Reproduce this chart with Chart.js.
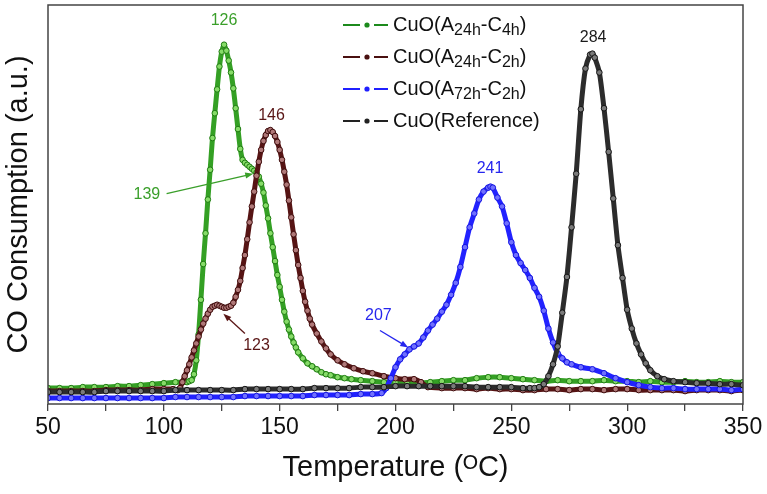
<!DOCTYPE html>
<html>
<head>
<meta charset="utf-8">
<script src="https://cdn.jsdelivr.net/npm/chart.js@4.4.1/dist/chart.umd.min.js"></script>
<style>
  html, body { margin: 0; padding: 0; background: #fff; }
  canvas { display: block; }
</style>
</head>
<body>
<canvas id="chart" width="767" height="494"></canvas>
<script>
// CO-TPR profiles, [temperature (C), signal (a.u.)]
const curveA24C4 = [[50,16],[55,16],[60,16],[65,17],[70,17],[75,17],[80,18],[85,18],[90,19],[95,20],[100,21],[105,22],[108,22],[110,22],[111,23],[112,24],[113,30],[114,44],[115,70],[116,105],[117,141],[118,172],[119,206],[120,236],[121,268],[122,293],[123,317],[124,340],[125,355],[126,362],[127,356],[128,346],[129,334],[130,318],[131,298],[132,277],[133,257],[134,246],[135,243],[136,241],[137,239],[138,237],[139,235],[140,233],[141,229],[142,222],[143,213],[144,200],[145,187],[146,172],[147,158],[148,144],[149,130],[150,118],[151,105],[152,93],[153,83],[154,75],[155,68],[156,62],[157,57],[158,52],[160,46],[162,41],[164,38],[166,35],[168,32],[170,30],[172,29],[175,27],[178,26],[181,25],[185,24],[190,23],[195,22],[200,22],[205,21],[210,21],[215,22],[220,23],[225,24],[230,24],[235,26],[240,27],[245,27],[250,26],[255,25],[260,24],[265,23],[270,24],[275,23],[280,23],[285,23],[290,24],[295,23],[300,23],[305,22],[310,23],[315,22],[320,22],[325,23],[330,22],[335,22],[340,23],[345,22],[350,22]];
const curveA24C2 = [[50,13],[55,13],[60,13],[65,13],[70,13],[75,14],[80,14],[85,14],[90,14],[95,15],[100,15],[104,15],[106,14],[107,16],[108,22],[109,28],[110,34],[111,40],[112,47],[113,54],[114,61],[115,68],[116,75],[117,81],[118,86],[119,91],[120,95],[121,98],[122,99],[123,100],[124,99],[125,98],[126,97],[127,97],[128,98],[129,99],[130,102],[131,108],[132,115],[133,124],[134,137],[135,150],[136,166],[137,183],[138,199],[139,214],[140,230],[141,244],[142,256],[143,265],[144,271],[145,275],[146,276],[147,274],[148,270],[149,264],[150,256],[151,246],[152,234],[153,221],[154,205],[155,188],[156,171],[157,155],[158,140],[159,127],[160,114],[161,103],[162,94],[163,86],[164,80],[166,71],[168,63],[170,56],[172,50],[175,44],[178,40],[182,36],[186,33],[190,31],[195,28],[200,26],[204,25],[208,25],[211,22],[214,17],[220,16],[225,16],[230,16],[235,15],[240,16],[245,15],[250,15],[255,14],[260,14],[265,15],[270,15],[275,14],[280,15],[285,15],[290,14],[295,15],[300,15],[305,14],[310,14],[315,14],[320,14],[325,13],[330,14],[335,14],[340,14],[345,13],[350,14]];
const curveA72C2 = [[50,6],[55,6],[60,6],[65,6],[70,6],[75,6],[80,6],[85,6],[90,6],[95,6],[100,6],[105,7],[110,7],[115,7],[120,7],[125,7],[130,7],[135,8],[140,8],[145,8],[150,8],[155,8],[160,8],[165,9],[170,9],[175,9],[180,9],[185,10],[190,10],[194,11],[196,16],[198,26],[200,37],[202,45],[204,50],[206,55],[208,58],[210,61],[212,67],[214,74],[216,80],[218,86],[220,93],[222,100],[224,110],[226,122],[228,138],[230,158],[232,178],[234,192],[236,206],[238,214],[240,218],[241,219],[242,218],[244,208],[246,199],[248,182],[250,163],[252,150],[254,142],[256,135],[258,127],[260,117],[262,108],[264,94],[266,76],[268,62],[270,51],[272,46],[274,42],[276,40],[280,37],[285,35],[290,31],[295,26],[300,22],[305,19],[310,17],[315,16],[320,16],[325,15],[330,15],[335,15],[340,15],[345,14],[350,15]];
const curveRef = [[50,12],[55,12],[60,12],[65,12],[70,12],[75,13],[80,13],[85,13],[90,13],[95,13],[100,13],[105,14],[110,14],[115,14],[120,14],[125,14],[130,14],[135,15],[140,15],[145,15],[150,15],[155,15],[160,15],[165,16],[170,16],[175,16],[180,16],[185,17],[190,17],[195,17],[200,18],[205,18],[210,18],[215,18],[220,18],[225,18],[230,18],[235,17],[240,17],[245,17],[250,17],[255,16],[258,16],[260,16],[262,17],[264,20],[266,28],[268,40],[270,58],[272,92],[274,128],[276,178],[278,232],[280,297],[282,338],[284,352],[285,353],[286,349],[288,334],[290,298],[292,254],[294,207],[296,160],[298,127],[300,95],[302,76],[304,61],[306,50],[308,41],[310,34],[313,28],[316,25],[320,23],[325,22],[330,21],[335,21],[340,20],[345,20],[350,19]];

// legend text, pieces flagged 1 are subscripts
const legendNames = [
  [["CuO(A", 0], ["24h", 1], ["-C", 0], ["4h", 1], [")", 0]],
  [["CuO(A", 0], ["24h", 1], ["-C", 0], ["2h", 1], [")", 0]],
  [["CuO(A", 0], ["72h", 1], ["-C", 0], ["2h", 1], [")", 0]],
  [["CuO(Reference)", 0]]
];

// peak labels: [text, temperature, signal]
const peakLabels = [["126", 126, 386], ["146", 146.5, 291], ["139", 92.7, 211], ["123", 140, 59], ["207", 192.6, 89], ["241", 240.8, 237], ["284", 285.3, 369]];
// arrows for the shoulder labels: [from T, from signal, to T, to signal]
const peakArrows = [[101.2, 212, 138.6, 232], [135, 71, 125.7, 91], [193.3, 74, 205.5, 57]];
const labelSeries = [0, 1, 0, 1, 2, 2, 3];
const arrowSeries = [0, 1, 2];

const xTicks = [50, 100, 150, 200, 250, 300, 350];

const colors = [
  { line: "#34a024", point: "#86dc68", edge: "#1f7a12", legend: "#1c8a1c", text: "#3a9f2a" },
  { line: "#561414", point: "#b07878", edge: "#3e0c0c", legend: "#4a1010", text: "#5a1616" },
  { line: "#2222ff", point: "#7070ff", edge: "#1414e0", legend: "#2020ff", text: "#2626ee" },
  { line: "#2c2c2c", point: "#7a7a7a", edge: "#141414", legend: "#222", text: "#1a1a1a" }
];
const font = "'Liberation Sans', Arial, sans-serif";

function makeSet(curve, i, order) {
  const c = colors[i];
  return {
    data: curve.map(p => ({ x: p[0], y: p[1] })),
    borderColor: c.line,
    borderWidth: 5,
    pointRadius: 2.8,
    pointBackgroundColor: c.point,
    pointBorderColor: c.edge,
    pointBorderWidth: 1,
    tension: 0.2,
    order: order
  };
}

const framePlugin = {
  id: "frame",
  afterDraw(chart) {
    const { ctx, chartArea: a } = chart;
    ctx.save();
    ctx.strokeStyle = "#444";
    ctx.lineWidth = 1.5;
    ctx.strokeRect(a.left, a.top, a.right - a.left, a.bottom - a.top);
    ctx.restore();
  }
};

const notesPlugin = {
  id: "notes",
  afterDatasetsDraw(chart) {
    const ctx = chart.ctx;
    const xs = chart.scales.x, ys = chart.scales.y;
    ctx.save();
    ctx.font = "16px " + font;
    ctx.textAlign = "center";
    ctx.textBaseline = "middle";
    peakLabels.forEach((l, i) => {
      ctx.fillStyle = colors[labelSeries[i]].text;
      ctx.fillText(l[0], xs.getPixelForValue(l[1]), ys.getPixelForValue(l[2]));
    });
    peakArrows.forEach((a, i) => {
      const x1 = xs.getPixelForValue(a[0]), y1 = ys.getPixelForValue(a[1]);
      const x2 = xs.getPixelForValue(a[2]), y2 = ys.getPixelForValue(a[3]);
      const ang = Math.atan2(y2 - y1, x2 - x1);
      ctx.strokeStyle = ctx.fillStyle = colors[arrowSeries[i]].text;
      ctx.lineWidth = 1.3;
      ctx.beginPath();
      ctx.moveTo(x1, y1);
      ctx.lineTo(x2 - 6 * Math.cos(ang), y2 - 6 * Math.sin(ang));
      ctx.stroke();
      ctx.beginPath();
      ctx.moveTo(x2, y2);
      ctx.lineTo(x2 - 8 * Math.cos(ang) + 3 * Math.sin(ang), y2 - 8 * Math.sin(ang) - 3 * Math.cos(ang));
      ctx.lineTo(x2 - 8 * Math.cos(ang) - 3 * Math.sin(ang), y2 - 8 * Math.sin(ang) + 3 * Math.cos(ang));
      ctx.closePath();
      ctx.fill();
    });
    ctx.restore();
  },
  afterDraw(chart) {
    // legend
    const ctx = chart.ctx;
    ctx.save();
    ctx.textBaseline = "middle";
    legendNames.forEach((parts, i) => {
      const y = 25 + i * 32;
      const c = colors[i];
      ctx.strokeStyle = c.legend;
      ctx.lineWidth = 2;
      ctx.beginPath();
      ctx.moveTo(343, y); ctx.lineTo(360, y);
      ctx.moveTo(374, y); ctx.lineTo(388, y);
      ctx.stroke();
      ctx.fillStyle = c.legend;
      ctx.beginPath();
      ctx.arc(367, y, 2.6, 0, Math.PI * 2);
      ctx.fill();
      let x = 393;
      ctx.fillStyle = "#111";
      parts.forEach(([txt, sub]) => {
        ctx.font = (sub ? "16px " : "20px ") + font;
        ctx.fillText(txt, x, sub ? y + 6 : y);
        x += ctx.measureText(txt).width;
      });
    });
    ctx.restore();
  }
};

const ctx = document.getElementById("chart").getContext("2d");
new Chart(ctx, {
  type: "line",
  data: {
    datasets: [
      makeSet(curveA24C4, 0, 3),
      makeSet(curveA24C2, 1, 2),
      makeSet(curveA72C2, 2, 1),
      makeSet(curveRef, 3, 0)
    ]
  },
  options: {
    responsive: false,
    animation: false,
    devicePixelRatio: 1,
    layout: { padding: { left: 0, right: 24, top: 2, bottom: 0 } },
    plugins: { legend: { display: false }, tooltip: { enabled: false } },
    scales: {
      x: {
        type: "linear",
        min: 50,
        max: 350,
        afterFit: s => { s.height = 90; },
        afterBuildTicks: s => {
          const t = [];
          for (let v = 50; v <= 350; v += 25) t.push({ value: v });
          s.ticks = t;
        },
        ticks: {
          autoSkip: false,
          maxRotation: 0,
          color: "#111",
          font: { family: font, size: 23 },
          padding: 3,
          callback: v => (xTicks.includes(v) ? String(v) : "")
        },
        grid: { drawOnChartArea: false, drawTicks: true, tickLength: 7, color: "#444", lineWidth: 1.3 },
        border: { display: false },
        title: {
          display: true,
          text: "Temperature (\u1D3CC)",
          color: "#111",
          font: { family: font, size: 29 },
          padding: { top: 4, bottom: 9 }
        }
      },
      y: {
        min: 0,
        max: 402,
        afterFit: s => { s.width = 48; },
        ticks: { display: false },
        grid: { display: false },
        border: { display: false },
        title: {
          display: true,
          text: "CO Consumption (a.u.)",
          color: "#111",
          font: { family: font, size: 29 },
          padding: { top: 2, bottom: 0 }
        }
      }
    }
  },
  plugins: [framePlugin, notesPlugin]
});
</script>
</body>
</html>
